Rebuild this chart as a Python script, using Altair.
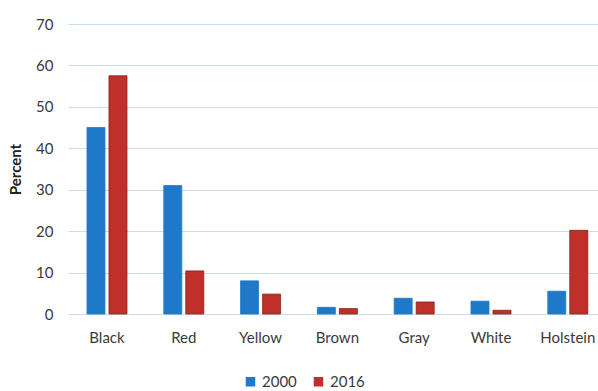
import altair as alt
import pandas as pd

categories = ["Black", "Red", "Yellow", "Brown", "Gray", "White", "Holstein"]
years = ["2000", "2016"]
values_2000 = [45, 31, 8, 1.6, 3.8, 3.1, 5.5]
values_2016 = [57.5, 10.4, 4.8, 1.3, 2.9, 0.9, 20.2]

rows = []
for c, a, b in zip(categories, values_2000, values_2016):
    rows.append({"Color": c, "Year": "2000", "Percent": a})
    rows.append({"Color": c, "Year": "2016", "Percent": b})
df = pd.DataFrame(rows)

FONT = "Lato"
TXT = "#3a3a3a"
GRID = "#c9deec"

chart = alt.Chart(df).mark_bar(strokeWidth=0.8).encode(
    x=alt.X("Color:N", sort=categories, title=None,
            scale=alt.Scale(paddingInner=0.479, paddingOuter=0.19, align=0.65),
            axis=alt.Axis(labelAngle=0, labelFontSize=15, labelColor=TXT, labelFont=FONT,
                          ticks=False, domain=False, labelPadding=16)),
    xOffset=alt.XOffset("Year:N", sort=years,
                        scale=alt.Scale(paddingInner=0.182, paddingOuter=0)),
    y=alt.Y("Percent:Q", title="Percent",
            scale=alt.Scale(domain=[0, 70], nice=False),
            axis=alt.Axis(values=[0, 10, 20, 30, 40, 50, 60, 70], ticks=False, domain=False,
                          labelFontSize=15, labelColor=TXT, labelFont=FONT, labelPadding=15,
                          titleFont=FONT, titleFontSize=15, titleColor="#222222",
                          titleFontWeight="bold", titlePadding=12,
                          gridColor=GRID, gridWidth=1.2)),
    color=alt.Color("Year:N", sort=years,
                    scale=alt.Scale(domain=years, range=["#1f78c8", "#c0302a"]),
                    legend=alt.Legend(title=None, orient="none", direction="horizontal",
                                      legendX=175, legendY=350,
                                      symbolType="square", symbolSize=90,
                                      symbolStrokeWidth=0, labelFontSize=15,
                                      labelFont=FONT, labelColor=TXT,
                                      columnPadding=14, labelOffset=4)),
    stroke=alt.Color("Year:N", sort=years,
                     scale=alt.Scale(domain=years, range=["#1f78c8", "#8a1e18"]),
                     legend=None),
).properties(
    width=530, height=290,
    background="white",
    padding={"left": 68, "top": 24, "right": 0, "bottom": 77},
    autosize=alt.AutoSizeParams(type="none"),
).configure_view(stroke=None)

chart.save("out.html", embed_options={"renderer": "svg", "actions": False})
